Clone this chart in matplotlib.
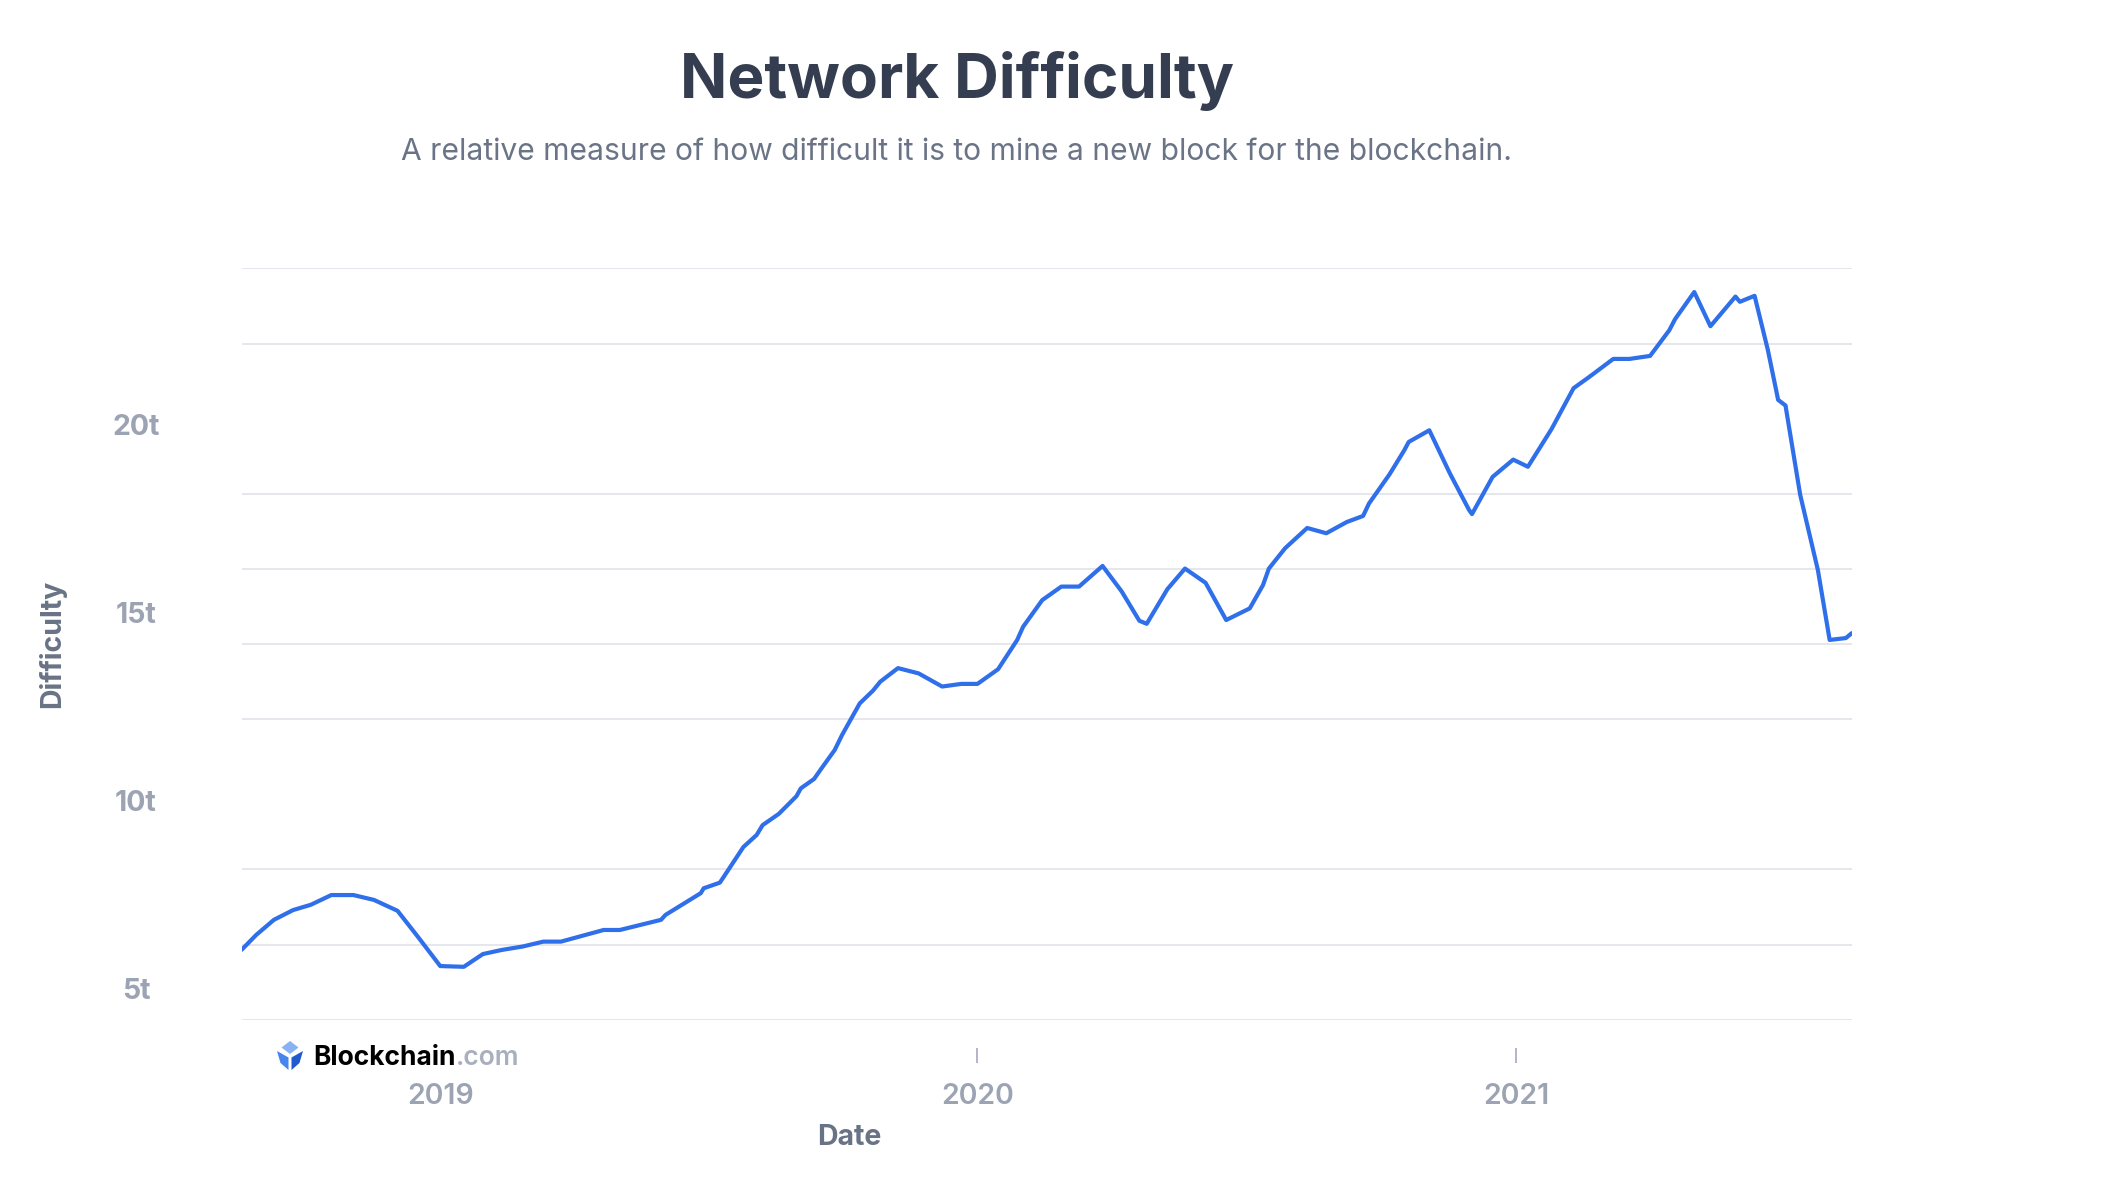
import pandas as pd
import matplotlib.pyplot as plt
import matplotlib.transforms as mtransforms
from matplotlib.patches import Polygon

# ==========================================================
# Data
# ==========================================================

dates = [
    "2018-08-19", "2018-08-29", "2018-09-10", "2018-09-23", "2018-10-05", "2018-10-19",
    "2018-11-03", "2018-11-17", "2018-12-03", "2018-12-17",
    "2019-01-01", "2019-01-17", "2019-01-30", "2019-02-12", "2019-02-26", "2019-03-12", "2019-03-24",
    "2019-04-22", "2019-05-03", "2019-05-31", "2019-06-03", "2019-06-27", "2019-06-29", "2019-07-10",
    "2019-07-26", "2019-08-04", "2019-08-08", "2019-08-19", "2019-08-31", "2019-09-03", "2019-09-12",
    "2019-09-17", "2019-09-26", "2019-10-01", "2019-10-13", "2019-10-22", "2019-10-27", "2019-11-08",
    "2019-11-22", "2019-12-08", "2019-12-21",
    "2020-01-01", "2020-01-15", "2020-01-28", "2020-02-01", "2020-02-14", "2020-02-27", "2020-03-10",
    "2020-03-26", "2020-04-08", "2020-04-20", "2020-04-25", "2020-05-09", "2020-05-21", "2020-06-04",
    "2020-06-18", "2020-07-04", "2020-07-13", "2020-07-17", "2020-07-28", "2020-08-12", "2020-08-25",
    "2020-09-08", "2020-09-19", "2020-09-23", "2020-10-07", "2020-10-17", "2020-10-20", "2020-11-03",
    "2020-11-17", "2020-11-30", "2020-12-02", "2020-12-16", "2020-12-30",
    "2021-01-09", "2021-01-25", "2021-02-09", "2021-02-20", "2021-03-08", "2021-03-19", "2021-04-02",
    "2021-04-15", "2021-04-19", "2021-05-02", "2021-05-13", "2021-05-30", "2021-06-02", "2021-06-12",
    "2021-06-21", "2021-06-28", "2021-07-03", "2021-07-13", "2021-07-25", "2021-08-02", "2021-08-13",
    "2021-08-17",
]

difficulty_t = [
    5.86, 6.26, 6.66, 6.92, 7.06, 7.32,
    7.32, 7.19, 6.90, 6.20,
    5.43, 5.41, 5.75, 5.86, 5.95, 6.08, 6.08,
    6.39, 6.39, 6.66, 6.79, 7.37, 7.50, 7.65,
    8.60, 8.92, 9.18, 9.48, 9.95, 10.16, 10.41,
    10.69, 11.18, 11.58, 12.42, 12.76, 13.00, 13.36,
    13.22, 12.87, 12.94,
    12.94, 13.33, 14.11, 14.46, 15.17, 15.53, 15.53,
    16.08, 15.40, 14.62, 14.54, 15.46, 16.01, 15.63,
    14.64, 14.95, 15.57, 16.01, 16.55, 17.09, 16.95,
    17.25, 17.41, 17.74, 18.52, 19.16, 19.38, 19.69,
    18.54, 17.57, 17.46, 18.45, 18.91,
    18.72, 19.72, 20.81, 21.12, 21.59, 21.59, 21.67,
    22.35, 22.65, 23.37, 22.46, 23.25, 23.11, 23.27,
    21.83, 20.50, 20.35, 17.97, 15.97, 14.11, 14.16,
    14.29,
]

y_ticks = [5, 10, 15, 20]
y_tick_labels = ["5t", "10t", "15t", "20t"]
grid_levels = [4, 6, 8, 10, 12, 14, 16, 18, 20, 22, 24]

year_ticks = ["2019-01-01", "2020-01-01", "2021-01-01"]
year_labels = ["2019", "2020", "2021"]

# ==========================================================
# Style
# ==========================================================

plt.rcParams["font.family"] = ["Inter", "DejaVu Sans"]

LINE_BLUE = "#2f6fea"
GRID_GRAY = "#e3e5ea"
TICK_GRAY = "#9ca3b3"
LABEL_GRAY = "#687386"
TITLE_DARK = "#353e50"

W, H = 2104, 1188

fig = plt.figure(figsize=(W / 100, H / 100), dpi=100)
ax = fig.add_axes([0.1148, 0.1416, 0.7653, 0.6325])

x = pd.to_datetime(dates)

ax.plot(x, difficulty_t, color=LINE_BLUE, linewidth=3,
        solid_joinstyle="round", solid_capstyle="round", zorder=3)

ax.set_xlim(x[0], x[-1])
ax.set_ylim(4, 24)

# ==========================================================
# Axes styling
# ==========================================================

for side in ["top", "right", "left", "bottom"]:
    ax.spines[side].set_visible(False)

# detached year ticks below the plot
ax.spines["bottom"].set_position(("outward", 20.5))

ax.set_yticks(y_ticks)
ax.set_yticklabels(y_tick_labels, ha="center")
ax.set_yticks(grid_levels, minor=True)
ax.grid(which="minor", axis="y", color=GRID_GRAY, linewidth=1.3)
ax.tick_params(axis="y", which="both", length=0, pad=76,
               labelsize=20.5, labelcolor=TICK_GRAY)

offset = mtransforms.ScaledTranslation(0, -6 / 100, fig.dpi_scale_trans)
for tick in ax.yaxis.get_major_ticks():
    tick.label1.set_fontweight("bold")
    tick.label1.set_transform(tick.label1.get_transform() + offset)

ax.set_xticks(pd.to_datetime(year_ticks))
ax.set_xticklabels(year_labels, fontweight="semibold")
ax.tick_params(axis="x", length=10.8, width=1.1, color=TICK_GRAY,
               pad=14, labelsize=20.5, labelcolor=TICK_GRAY)

ax.set_ylabel("Difficulty", fontsize=20.5, fontweight="bold", color=LABEL_GRAY, va="center")
ax.yaxis.set_label_coords(-0.1177, 0.5)

ax.set_xlabel("Date", fontsize=20.5, fontweight="bold", color=LABEL_GRAY, va="center")
ax.xaxis.set_label_coords(0.3776, -0.1573)

# ==========================================================
# Titles
# ==========================================================

fig.text(956.5 / W, 1 - 98 / H, "Network Difficulty", ha="center", va="baseline",
         fontsize=44.7, fontweight="bold", color=TITLE_DARK)
fig.text(956.5 / W, 1 - 160 / H,
         "A relative measure of how difficult it is to mine a new block for the blockchain.",
         ha="center", va="baseline", fontsize=21.6, color="#6b7486")

# ==========================================================
# Blockchain.com mark
# ==========================================================


def px(px_x, px_y):
    return (px_x / W, 1 - px_y / H)


icon_parts = [
    ([(290, 1041), (298.5, 1047.5), (290, 1054), (281.5, 1047.5)], "#88b2f3"),
    ([(277, 1051), (288.5, 1057.5), (288.5, 1070), (280.5, 1063)], "#4485ee"),
    ([(303, 1051), (291.5, 1057.5), (291.5, 1070), (299.5, 1063)], "#2159cf"),
]
for pts, color in icon_parts:
    fig.patches.append(Polygon([px(*p) for p in pts], closed=True,
                               transform=fig.transFigure, facecolor=color,
                               edgecolor="none", zorder=5))

brand = fig.text(313 / W, 1 - 1065 / H, "Blockchain", ha="left", va="baseline",
                 fontsize=19, fontweight="bold", color="#000000", zorder=5,
                 bbox=dict(facecolor="white", edgecolor="none", pad=1))
fig.text(0, 0, ".com", ha="left", va="baseline", fontsize=19,
         fontweight="semibold", color="#a9b0bd", zorder=5)
fig.canvas.draw()
bb = brand.get_window_extent()
fig.texts[-1].set_position((bb.x1 / W, 1 - 1065 / H))

fig.savefig("out.png", dpi=100, facecolor="white")
